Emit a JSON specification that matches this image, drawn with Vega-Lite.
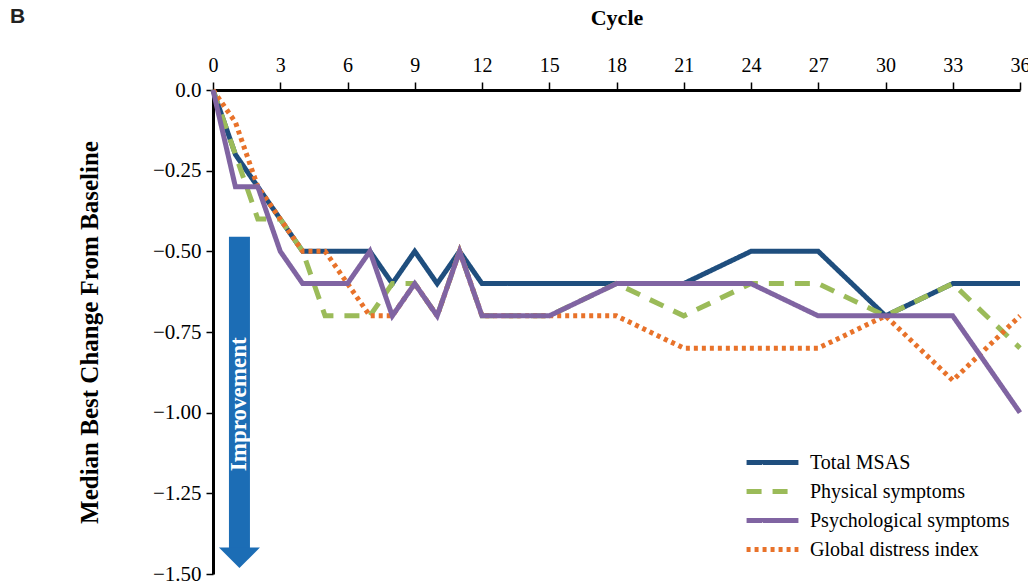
{
  "$schema": "https://vega.github.io/schema/vega-lite/v6.json",
  "autosize": "none",
  "width": 807,
  "height": 484,
  "padding": {"left": 213, "top": 90, "right": 8, "bottom": 10},
  "background": "white",
  "title": {"text": "B", "anchor": "start", "frame": "group", "dx": -203, "dy": 46, "font": "Liberation Sans", "fontWeight": "bold", "fontSize": 21, "color": "#222222", "baseline": "bottom"},
  "config": {
    "view": {"stroke": null},
    "font": "Liberation Serif"
  },
  "datasets": {
    "lines": [
      {"cycle": 0, "value": 0, "series": "Total MSAS"},
      {"cycle": 1, "value": -0.2, "series": "Total MSAS"},
      {"cycle": 2, "value": -0.3, "series": "Total MSAS"},
      {"cycle": 3, "value": -0.4, "series": "Total MSAS"},
      {"cycle": 4, "value": -0.5, "series": "Total MSAS"},
      {"cycle": 5, "value": -0.5, "series": "Total MSAS"},
      {"cycle": 6, "value": -0.5, "series": "Total MSAS"},
      {"cycle": 7, "value": -0.5, "series": "Total MSAS"},
      {"cycle": 8, "value": -0.6, "series": "Total MSAS"},
      {"cycle": 9, "value": -0.5, "series": "Total MSAS"},
      {"cycle": 10, "value": -0.6, "series": "Total MSAS"},
      {"cycle": 11, "value": -0.5, "series": "Total MSAS"},
      {"cycle": 12, "value": -0.6, "series": "Total MSAS"},
      {"cycle": 15, "value": -0.6, "series": "Total MSAS"},
      {"cycle": 18, "value": -0.6, "series": "Total MSAS"},
      {"cycle": 21, "value": -0.6, "series": "Total MSAS"},
      {"cycle": 24, "value": -0.5, "series": "Total MSAS"},
      {"cycle": 27, "value": -0.5, "series": "Total MSAS"},
      {"cycle": 30, "value": -0.7, "series": "Total MSAS"},
      {"cycle": 33, "value": -0.6, "series": "Total MSAS"},
      {"cycle": 36, "value": -0.6, "series": "Total MSAS"},

      {"cycle": 0, "value": 0, "series": "Physical symptoms"},
      {"cycle": 1, "value": -0.2, "series": "Physical symptoms"},
      {"cycle": 2, "value": -0.4, "series": "Physical symptoms"},
      {"cycle": 3, "value": -0.4, "series": "Physical symptoms"},
      {"cycle": 4, "value": -0.5, "series": "Physical symptoms"},
      {"cycle": 5, "value": -0.7, "series": "Physical symptoms"},
      {"cycle": 6, "value": -0.7, "series": "Physical symptoms"},
      {"cycle": 7, "value": -0.7, "series": "Physical symptoms"},
      {"cycle": 8, "value": -0.6, "series": "Physical symptoms"},
      {"cycle": 9, "value": -0.6, "series": "Physical symptoms"},
      {"cycle": 10, "value": -0.7, "series": "Physical symptoms"},
      {"cycle": 11, "value": -0.5, "series": "Physical symptoms"},
      {"cycle": 12, "value": -0.7, "series": "Physical symptoms"},
      {"cycle": 15, "value": -0.7, "series": "Physical symptoms"},
      {"cycle": 18, "value": -0.6, "series": "Physical symptoms"},
      {"cycle": 21, "value": -0.7, "series": "Physical symptoms"},
      {"cycle": 24, "value": -0.6, "series": "Physical symptoms"},
      {"cycle": 27, "value": -0.6, "series": "Physical symptoms"},
      {"cycle": 30, "value": -0.7, "series": "Physical symptoms"},
      {"cycle": 33, "value": -0.6, "series": "Physical symptoms"},
      {"cycle": 36, "value": -0.8, "series": "Physical symptoms"},

      {"cycle": 0, "value": 0, "series": "Global distress index"},
      {"cycle": 1, "value": -0.1, "series": "Global distress index"},
      {"cycle": 2, "value": -0.3, "series": "Global distress index"},
      {"cycle": 3, "value": -0.4, "series": "Global distress index"},
      {"cycle": 4, "value": -0.5, "series": "Global distress index"},
      {"cycle": 5, "value": -0.5, "series": "Global distress index"},
      {"cycle": 6, "value": -0.6, "series": "Global distress index"},
      {"cycle": 7, "value": -0.7, "series": "Global distress index"},
      {"cycle": 8, "value": -0.7, "series": "Global distress index"},
      {"cycle": 9, "value": -0.6, "series": "Global distress index"},
      {"cycle": 10, "value": -0.7, "series": "Global distress index"},
      {"cycle": 11, "value": -0.5, "series": "Global distress index"},
      {"cycle": 12, "value": -0.7, "series": "Global distress index"},
      {"cycle": 15, "value": -0.7, "series": "Global distress index"},
      {"cycle": 18, "value": -0.7, "series": "Global distress index"},
      {"cycle": 21, "value": -0.8, "series": "Global distress index"},
      {"cycle": 24, "value": -0.8, "series": "Global distress index"},
      {"cycle": 27, "value": -0.8, "series": "Global distress index"},
      {"cycle": 30, "value": -0.7, "series": "Global distress index"},
      {"cycle": 33, "value": -0.9, "series": "Global distress index"},
      {"cycle": 36, "value": -0.7, "series": "Global distress index"},

      {"cycle": 0, "value": 0, "series": "Psychological symptoms"},
      {"cycle": 1, "value": -0.3, "series": "Psychological symptoms"},
      {"cycle": 2, "value": -0.3, "series": "Psychological symptoms"},
      {"cycle": 3, "value": -0.5, "series": "Psychological symptoms"},
      {"cycle": 4, "value": -0.6, "series": "Psychological symptoms"},
      {"cycle": 5, "value": -0.6, "series": "Psychological symptoms"},
      {"cycle": 6, "value": -0.6, "series": "Psychological symptoms"},
      {"cycle": 7, "value": -0.5, "series": "Psychological symptoms"},
      {"cycle": 8, "value": -0.7, "series": "Psychological symptoms"},
      {"cycle": 9, "value": -0.6, "series": "Psychological symptoms"},
      {"cycle": 10, "value": -0.7, "series": "Psychological symptoms"},
      {"cycle": 11, "value": -0.5, "series": "Psychological symptoms"},
      {"cycle": 12, "value": -0.7, "series": "Psychological symptoms"},
      {"cycle": 15, "value": -0.7, "series": "Psychological symptoms"},
      {"cycle": 18, "value": -0.6, "series": "Psychological symptoms"},
      {"cycle": 21, "value": -0.6, "series": "Psychological symptoms"},
      {"cycle": 24, "value": -0.6, "series": "Psychological symptoms"},
      {"cycle": 27, "value": -0.7, "series": "Psychological symptoms"},
      {"cycle": 30, "value": -0.7, "series": "Psychological symptoms"},
      {"cycle": 33, "value": -0.7, "series": "Psychological symptoms"},
      {"cycle": 36, "value": -1.0, "series": "Psychological symptoms"}
    ],
    "arrow": [
      {"x": 1.18, "ytop": -0.455, "ybot": -1.42, "tip": -1.45, "label": "Improvement", "ymid": -0.974}
    ]
  },
  "encoding": {
    "x": {
      "field": "cycle", "type": "quantitative",
      "scale": {"domain": [0, 36], "nice": false, "zero": false},
      "axis": {
        "orient": "top", "title": "Cycle", "values": [0,3,6,9,12,15,18,21,24,27,30,33,36],
        "grid": false, "domainColor": "black", "domainWidth": 3, "tickColor": "black", "tickWidth": 1.5, "tickSize": 8,
        "labelFont": "Liberation Serif", "labelFontSize": 20, "labelColor": "black", "labelPadding": 7, "labelFlush": false,
        "titleFont": "Liberation Serif", "titleFontSize": 22, "titleFontWeight": "bold", "titleColor": "black", "titlePadding": 26
      }
    },
    "y": {
      "field": "value", "type": "quantitative",
      "scale": {"domain": [-1.5, 0], "nice": false},
      "axis": {
        "title": "Median Best Change From Baseline", "values": [0, -0.25, -0.5, -0.75, -1, -1.25, -1.5],
        "labelExpr": "datum.value == 0 ? '0.0' : replace(format(datum.value, '.2f'), '-', '−')",
        "grid": false, "domainColor": "black", "domainWidth": 3, "tickColor": "black", "tickWidth": 1.5, "tickSize": 7,
        "labelFont": "Liberation Serif", "labelFontSize": 21, "labelColor": "black", "labelPadding": 5,
        "titleFont": "Liberation Serif", "titleFontSize": 25, "titleFontWeight": "bold", "titleColor": "black", "titlePadding": 50
      }
    }
  },
  "layer": [
    {
      "data": {"name": "arrow"},
      "mark": {"type": "rule", "color": "#1c6db5", "strokeWidth": 21, "strokeCap": "butt"},
      "encoding": {
        "x": {"field": "x", "type": "quantitative"},
        "y": {"field": "ytop", "type": "quantitative"},
        "y2": {"field": "ybot"}
      }
    },
    {
      "data": {"name": "arrow"},
      "mark": {"type": "point", "shape": "M-1,-0.5L1,-0.5L0,0.5Z", "filled": true, "color": "#1c6db5", "size": 1681, "opacity": 1},
      "encoding": {
        "x": {"field": "x", "type": "quantitative"},
        "y": {"field": "tip", "type": "quantitative"}
      }
    },
    {
      "data": {"name": "arrow"},
      "mark": {"type": "text", "angle": 270, "color": "white", "font": "Liberation Serif", "fontWeight": "bold", "fontSize": 23, "align": "center", "baseline": "middle"},
      "encoding": {
        "x": {"field": "x", "type": "quantitative"},
        "y": {"field": "ymid", "type": "quantitative"},
        "text": {"field": "label"}
      }
    },
    {
      "data": {"name": "lines"},
      "transform": [{"filter": "datum.series != 'Psychological symptoms'"}],
      "mark": {"type": "line", "strokeWidth": 5, "strokeCap": "butt", "strokeJoin": "miter"},
      "encoding": {
        "color": {
          "field": "series", "type": "nominal",
          "scale": {"domain": ["Total MSAS", "Physical symptoms", "Psychological symptoms", "Global distress index"], "range": ["#1f4e7e", "#9bbb59", "#8064a2", "#e8722a"]},
          "legend": {
            "title": null, "orient": "none", "legendX": 539, "legendY": 352, "symbolType": "M-1.64,0L1.64,0", "symbolSize": 1000, "symbolStrokeWidth": 5,
            "labelFont": "Liberation Serif", "labelFontSize": 20, "labelColor": "black", "labelLimit": 400, "rowPadding": 0, "labelOffset": 19, "padding": 2
          }
        },
        "strokeDash": {
          "field": "series", "type": "nominal",
          "scale": {"domain": ["Total MSAS", "Physical symptoms", "Psychological symptoms", "Global distress index"], "range": [[1, 0], [15, 11], [1, 0], [4, 4]]},
          "legend": null
        }
      }
    },
    {
      "data": {"name": "lines"},
      "transform": [{"filter": "datum.series == 'Psychological symptoms'"}],
      "mark": {"type": "line", "strokeWidth": 5, "strokeCap": "butt", "strokeJoin": "miter"},
      "encoding": {
        "color": {"field": "series", "type": "nominal"},
        "strokeDash": {"field": "series", "type": "nominal"}
      }
    }
  ]
}
